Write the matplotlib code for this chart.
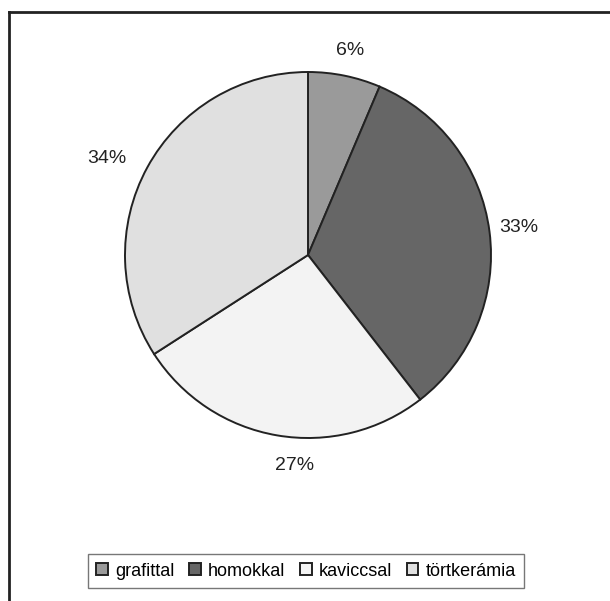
import matplotlib
matplotlib.use("Agg")
import matplotlib.pyplot as plt
from matplotlib.lines import Line2D
import numpy as np

categories = ["grafittal", "homokkal", "kaviccsal", "törtkerámia"]
values = [6.4, 33.1, 26.4, 34.1]
pct_labels = ["6%", "33%", "27%", "34%"]
colors = ["#9a9a9a", "#666666", "#f3f3f3", "#e0e0e0"]

plt.rcParams['font.family'] = ['Liberation Sans', 'DejaVu Sans']

fig = plt.figure(figsize=(6.10, 6.01), dpi=100)
cx, cy, r = 308, 255, 183
W, H = 610, 601
ax = fig.add_axes([(cx - r) / W, 1 - (cy + r) / H, 2 * r / W, 2 * r / H])
wedges, _ = ax.pie(values, colors=colors, startangle=90, counterclock=False,
                   wedgeprops=dict(edgecolor="#222222", linewidth=1.4))
label_dist = [1.14, 1.16, 1.15, 1.22]
label_shift = [0, 0, 6, 3]  # degrees
for w, lab, d, s in zip(wedges, pct_labels, label_dist, label_shift):
    ang = np.deg2rad((w.theta1 + w.theta2) / 2 + s)
    ax.text(d * np.cos(ang), d * np.sin(ang), lab, ha='center', va='center',
            fontsize=14, color="#222222", clip_on=False)
ax.set_aspect('equal')
ax.set_xlim(-1, 1)
ax.set_ylim(-1, 1)

handles = [plt.Rectangle((0, 0), 1, 1, facecolor=c, edgecolor="#222222", linewidth=1.4) for c in colors]
leg = fig.legend(handles, categories, loc='center', bbox_to_anchor=(306 / W, 1 - 571 / H),
                 ncol=4, frameon=True, fontsize=13, handlelength=0.65, handleheight=0.65,
                 handletextpad=0.4, columnspacing=0.8, borderpad=0.45, fancybox=False)
leg.get_frame().set_edgecolor("#555555")
leg.get_frame().set_linewidth(1.0)

fig.add_artist(Line2D([9 / W, 1.0], [1 - 12 / H, 1 - 12 / H], transform=fig.transFigure,
                      color="#222222", linewidth=2))
fig.add_artist(Line2D([9 / W, 9 / W], [0.0, 1 - 12 / H], transform=fig.transFigure,
                      color="#222222", linewidth=2))

fig.savefig("out.png", dpi=100)
